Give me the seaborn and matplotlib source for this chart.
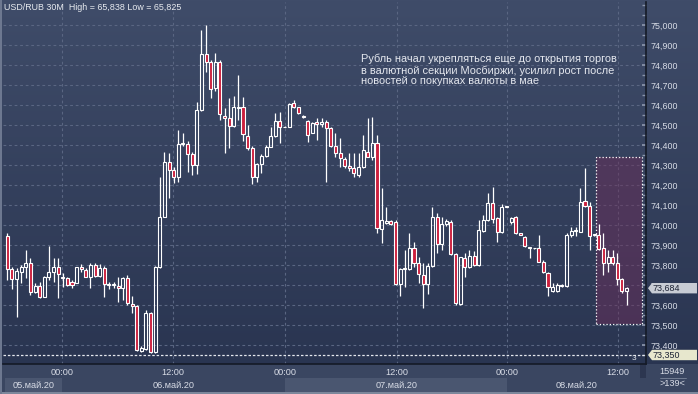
import numpy as np
import pandas as pd
import matplotlib
matplotlib.use("Agg")
import matplotlib.pyplot as plt
import matplotlib.transforms as mtransforms
from matplotlib.colors import LinearSegmentedColormap
from matplotlib.patches import Rectangle, Polygon
from matplotlib.ticker import MultipleLocator
import seaborn as sns

# ---- data: 30-minute USD/RUB candles, 05-08 May 2020 ----
opens = [73.945, 73.778, 73.728, 73.767, 73.792, 73.808, 73.667, 73.697, 73.638, 73.738,
         73.763, 73.788, 73.740, 73.733, 73.713, 73.708, 73.792, 73.775, 73.738, 73.800,
         73.745, 73.783, 73.705, 73.700, 73.697, 73.683, 73.733, 73.605, 73.595, 73.372,
         73.378, 73.562, 73.367, 73.788, 74.042, 74.317, 74.275, 74.238, 74.405, 74.405,
         74.355, 74.300, 74.575, 74.855, 74.817, 74.683, 74.817, 74.547, 74.533, 74.495,
         74.583, 74.588, 74.447, 74.387, 74.242, 74.305, 74.345, 74.392, 74.445, 74.520,
         74.488, 74.492, 74.608, 74.588, 74.547, 74.522, 74.462, 74.517, 74.505, 74.517,
         74.483, 74.395, 74.362, 74.328, 74.297, 74.283, 74.250, 74.288, 74.367, 74.342,
         74.412, 73.978, 74.008, 74.020, 74.017, 73.705, 73.778, 73.778, 73.883, 73.812,
         73.750, 73.705, 73.795, 74.042, 73.905, 74.005, 74.017, 73.855, 73.603, 73.833,
         73.788, 73.845, 73.800, 73.972, 74.025, 74.108, 74.033, 73.963, 74.092, 74.017,
         74.042, 73.958, 73.942, 73.888, 73.883, 73.883, 73.817, 73.758, 73.672, 73.672,
         73.697, 73.697, 73.950, 73.972, 73.967, 74.122, 74.095, 73.950, 73.950, 73.883,
         73.808, 73.842, 73.808, 73.728, 73.670]
highs = [73.958, 73.790, 73.783, 73.800, 73.875, 73.833, 73.708, 73.713, 73.745, 73.895,
         73.833, 73.833, 73.760, 73.738, 73.725, 73.790, 73.805, 73.783, 73.808, 73.808,
         73.803, 73.795, 73.717, 73.717, 73.742, 73.742, 73.750, 73.645, 73.600, 73.395,
         73.575, 73.567, 73.795, 74.242, 74.367, 74.358, 74.292, 74.475, 74.462, 74.422,
         74.367, 74.617, 74.975, 75.000, 74.825, 74.858, 74.825, 74.583, 74.633, 74.645,
         74.750, 74.638, 74.500, 74.395, 74.308, 74.355, 74.400, 74.492, 74.562, 74.567,
         74.495, 74.608, 74.625, 74.592, 74.550, 74.525, 74.517, 74.533, 74.533, 74.525,
         74.492, 74.458, 74.433, 74.342, 74.358, 74.358, 74.358, 74.450, 74.533, 74.542,
         74.450, 74.183, 74.092, 74.025, 74.025, 73.783, 73.875, 73.958, 73.917, 73.838,
         73.808, 73.812, 74.088, 74.058, 74.042, 74.028, 74.025, 73.862, 73.842, 73.858,
         73.875, 73.870, 74.025, 74.050, 74.162, 74.192, 74.042, 74.105, 74.095, 74.042,
         74.047, 73.960, 73.947, 73.892, 73.885, 73.950, 73.825, 73.767, 73.708, 73.708,
         73.705, 73.958, 73.992, 73.992, 74.183, 74.283, 74.117, 73.955, 74.005, 73.958,
         73.875, 73.875, 73.858, 73.733, 73.692]
lows = [73.725, 73.680, 73.542, 73.710, 73.733, 73.650, 73.662, 73.633, 73.638, 73.725,
        73.717, 73.633, 73.690, 73.695, 73.687, 73.708, 73.767, 73.738, 73.687, 73.742,
        73.742, 73.642, 73.678, 73.687, 73.617, 73.625, 73.600, 73.562, 73.372, 73.367,
        73.375, 73.362, 73.358, 73.783, 74.038, 74.133, 74.208, 74.217, 74.395, 74.267,
        74.250, 74.255, 74.572, 74.767, 74.633, 74.670, 74.525, 74.358, 74.383, 74.492,
        74.525, 74.422, 74.375, 74.203, 74.217, 74.258, 74.342, 74.388, 74.442, 74.412,
        74.488, 74.492, 74.583, 74.555, 74.535, 74.417, 74.458, 74.425, 74.488, 74.217,
        74.392, 74.342, 74.292, 74.283, 74.272, 74.242, 74.242, 74.283, 74.338, 74.325,
        73.958, 73.912, 74.005, 74.000, 73.700, 73.645, 73.692, 73.775, 73.792, 73.708,
        73.583, 73.655, 73.792, 73.858, 73.875, 73.995, 73.850, 73.600, 73.598, 73.742,
        73.783, 73.795, 73.795, 73.967, 74.022, 74.008, 73.917, 73.958, 74.088, 74.005,
        73.955, 73.948, 73.892, 73.833, 73.880, 73.813, 73.762, 73.645, 73.667, 73.667,
        73.692, 73.692, 73.942, 73.945, 73.963, 74.092, 73.875, 73.945, 73.875, 73.750,
        73.767, 73.800, 73.700, 73.662, 73.600]
closes = [73.778, 73.728, 73.772, 73.792, 73.808, 73.667, 73.697, 73.638, 73.738, 73.763,
          73.788, 73.755, 73.735, 73.700, 73.700, 73.788, 73.778, 73.738, 73.800, 73.745,
          73.783, 73.705, 73.700, 73.705, 73.683, 73.733, 73.612, 73.595, 73.375, 73.383,
          73.562, 73.367, 73.788, 74.042, 74.317, 74.275, 74.238, 74.405, 74.408, 74.355,
          74.300, 74.575, 74.855, 74.817, 74.678, 74.817, 74.555, 74.533, 74.495, 74.588,
          74.588, 74.453, 74.383, 74.242, 74.305, 74.345, 74.392, 74.445, 74.520, 74.488,
          74.492, 74.603, 74.588, 74.558, 74.538, 74.450, 74.508, 74.505, 74.517, 74.483,
          74.397, 74.358, 74.333, 74.297, 74.283, 74.262, 74.288, 74.375, 74.342, 74.412,
          73.983, 74.025, 74.020, 74.005, 73.705, 73.778, 73.783, 73.883, 73.812, 73.755,
          73.705, 73.795, 74.042, 73.905, 74.005, 74.018, 73.855, 73.608, 73.838, 73.788,
          73.845, 73.800, 73.975, 74.025, 74.108, 74.028, 73.963, 74.088, 74.092, 74.033,
          73.958, 73.950, 73.895, 73.883, 73.883, 73.817, 73.767, 73.692, 73.692, 73.700,
          73.697, 73.950, 73.972, 73.975, 74.117, 74.095, 73.945, 73.950, 73.878, 73.808,
          73.838, 73.808, 73.728, 73.670, 73.684]

price_ticks = [73.4, 73.5, 73.6, 73.7, 73.8, 73.9, 74.0, 74.1, 74.2, 74.3, 74.4,
               74.5, 74.6, 74.7, 74.8, 74.9, 75.0]
price_labels = ["73,400", "73,500", "73,600", "73,700", "73,800", "73,900", "74,000",
                "74,100", "74,200", "74,300", "74,400", "74,500", "74,600", "74,700",
                "74,800", "74,900", "75,000"]
time_ticks = [11.8, 35.9, 60.1, 84.3, 108.2, 132.2]
time_labels = ["00:00", "12:00", "00:00", "12:00", "00:00", "12:00"]
day_labels = ["05.май.20", "06.май.20", "07.май.20", "08.май.20"]
day_edges = [-0.4, 11.8, 60.1, 108.2, 138.2]
header = "USD/RUB 30M  High = 65,838 Low = 65,825"
note = ("Рубль начал укрепляться еще до открытия торгов\n"
        "в валютной секции Мосбиржи, усилил рост после\n"
        "новостей о покупках валюты в мае")
last_price = 73.684
low_level = 73.350
box_x = [127.3, 137.3]
box_y = [73.505, 74.338]

df = pd.DataFrame({"open": opens, "high": highs, "low": lows, "close": closes})
df["idx"] = np.arange(len(df))
df["up"] = df["close"] >= df["open"]
df["body_lo"] = df[["open", "close"]].min(axis=1)
df["body_hi"] = df[["open", "close"]].max(axis=1)
df["body_h"] = (df["body_hi"] - df["body_lo"]).clip(lower=0.004)

sns.set_theme(style="dark")
plt.rcParams["font.family"] = ["Liberation Sans", "DejaVu Sans"]

W, H = 698, 394
fx = lambda px: px / W
fy = lambda py: 1 - py / H

fig = plt.figure(figsize=(W / 100, H / 100), dpi=100)

# gradient background
bg = fig.add_axes([0, 0, 1, 1], zorder=-10)
grad = np.linspace(0, 1, 256)[:, None]
bg.imshow(grad, aspect="auto", extent=[0, 1, 0, 1],
          cmap=LinearSegmentedColormap.from_list("bg", ["#3f4c69", "#28334f"]))
bg.set_xlim(0, 1)
bg.set_ylim(0, 1)
bg.axis("off")
# bottom time panel and right corner
bg.add_patch(Rectangle((0, 0), 1, fy(364), color="#3a4661", lw=0))
bg.add_patch(Rectangle((0, 0), 1, fy(392), color="#7c879b", lw=0))
bg.add_patch(Rectangle((fx(640), fy(392)), fx(6), fy(364) - fy(392), color="#2c3650", lw=0))
bg.add_patch(Rectangle((0, 0), fx(2), 1, color="#6d7890", lw=0))

ax = fig.add_axes([fx(3), fy(364), fx(646) - fx(3), fy(2) - fy(364)])
ax.set_facecolor("none")
ax.set_xlim(-0.93, 138.2)
ax.set_ylim(73.305, 75.115)

# grid
ax.set_yticks(price_ticks)
ax.set_yticklabels(price_labels)
ax.set_xticks(time_ticks)
ax.set_xticklabels(time_labels)
ax.grid(True, color="#5a6682", linestyle=(0, (2.5, 2.5)), linewidth=0.8)
ax.yaxis.tick_right()
ax.yaxis.set_minor_locator(MultipleLocator(0.05))
ax.tick_params(axis="y", which="both", direction="in", length=3, color="#8a94aa",
               pad=3, labelsize=6.4, labelcolor="#d8dce6", right=True, left=False)
ax.tick_params(axis="x", length=0, pad=3, labelsize=6.6, labelcolor="#d8dce6")
for s in ["top", "left"]:
    ax.spines[s].set_visible(False)
for s in ["right", "bottom"]:
    ax.spines[s].set_color("#141a27")
    ax.spines[s].set_linewidth(1.2)

# day bands under the time labels
blend = mtransforms.blended_transform_factory(ax.transData, ax.transAxes)
y0 = -28 / 362
for k, lab in enumerate(day_labels):
    x0, x1 = day_edges[k], day_edges[k + 1]
    shade = "#4a5670" if k % 2 == 0 else "#3a4661"
    ax.add_patch(Rectangle((x0, y0), x1 - x0, 14 / 362, transform=blend,
                           color=shade, lw=0, clip_on=False, zorder=0))
    ax.text((x0 + x1) / 2, -21 / 362, lab, transform=blend, ha="center", va="center",
            fontsize=6.6, color="#d8dce6")

# level line
ax.axhline(low_level, color="#e6e9ef", linestyle=(0, (2, 1.5)), linewidth=0.9, zorder=2)

# highlight box
ax.add_patch(Rectangle((box_x[0], box_y[0]), box_x[1] - box_x[0], box_y[1] - box_y[0],
                       facecolor="#6a2f5a", alpha=0.5, lw=0, zorder=1))
ax.add_patch(Rectangle((box_x[0], box_y[0]), box_x[1] - box_x[0], box_y[1] - box_y[0],
                       facecolor="none", edgecolor="white", linestyle=":", lw=0.9, zorder=1))

# candles
ax.vlines(df["idx"], df["low"], df["body_lo"], color="white", lw=0.9, zorder=3)
ax.vlines(df["idx"], df["body_hi"], df["high"], color="white", lw=0.9, zorder=3)
face = np.where(df["up"], "none", "#cc1f3d")
ax.bar(df["idx"], df["body_h"], bottom=df["body_lo"], width=0.66, color=face,
       edgecolor="white", linewidth=0.8, zorder=4)

# price tags on the right
tag = mtransforms.blended_transform_factory(ax.transAxes, ax.transData)
for val, fc in [(last_price, "#c8ccd4"), (low_level, "#e7e7cd")]:
    h = 0.026
    pts = [(1.0031, val), (1.0093, val + h), (1.0793, val + h), (1.0793, val - h), (1.0093, val - h)]
    ax.add_patch(Polygon(pts, closed=True, transform=tag, facecolor=fc, edgecolor="none",
                         clip_on=False, zorder=5))
    ax.text(1.0105, val, f"{val:.3f}".replace(".", ","), transform=tag, ha="left",
            va="center", fontsize=6.4, color="#1c2233", zorder=6)

ax.text(135.6, 73.335, "3", ha="center", va="center", fontsize=6, color="#e6e9ef")

# texts
fig.text(fx(4), fy(8), header, ha="left", va="center", fontsize=6.4, color="#e8ebf0")
fig.text(fx(361), fy(54), note, ha="left", va="top", fontsize=7.95, linespacing=1.09,
         color="#e4e7ee")
fig.text(fx(672), fy(372), "15949", ha="center", va="center", fontsize=6.6, color="#d8dce6")
fig.text(fx(672), fy(384), ">139<", ha="center", va="center", fontsize=6.6, color="#d8dce6")
bg.plot([fx(660), fx(686)], [fy(378), fy(378)], color="#7c879b", lw=0.6)

fig.savefig("out.png", dpi=100)
plt.close(fig)
